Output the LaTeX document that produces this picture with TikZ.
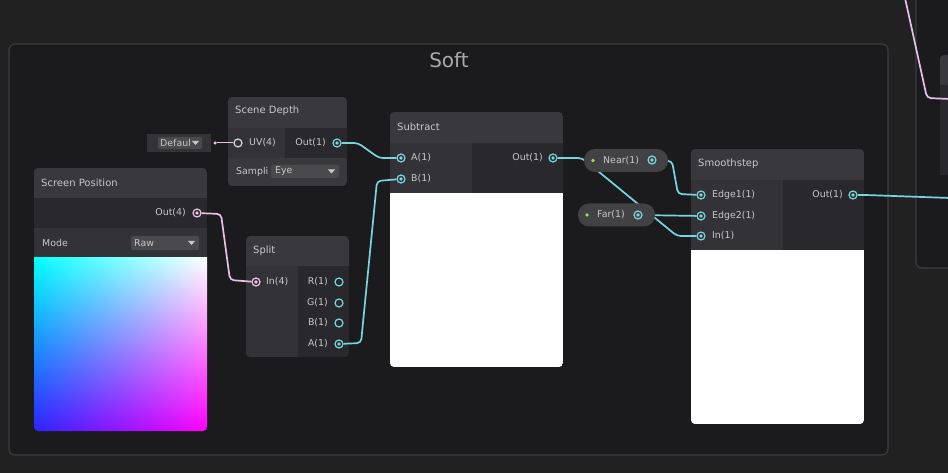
\documentclass[tikz,border=0pt]{standalone}
\usepackage{fontspec}
\setmainfont{DejaVu Sans}
\usepackage{xcolor}
\usetikzlibrary{shadings}
\pgfdeclarelayer{front}
\pgfsetlayers{main,front}

\definecolor{bgout}{RGB}{33,33,34}
\definecolor{bggroup}{RGB}{27,27,29}
\definecolor{groupline}{RGB}{60,60,62}
\definecolor{hdr}{RGB}{57,56,60}
\definecolor{inpart}{RGB}{51,50,54}
\definecolor{outpart}{RGB}{41,40,44}
\definecolor{ddc}{RGB}{74,74,77}
\definecolor{pillc}{RGB}{66,66,68}
\definecolor{txtc}{RGB}{200,200,200}
\definecolor{softc}{RGB}{170,170,172}
\definecolor{wirec}{RGB}{120,214,222}
\definecolor{pinkc}{RGB}{232,192,232}
\definecolor{greenc}{RGB}{150,220,90}
\definecolor{spblue}{RGB}{45,35,255}

\begin{document}
\begin{tikzpicture}
                [
                x=1pt, y=-1pt,
                title/.style={text=txtc, font=\fontsize{10}{12}\selectfont, inner sep=0pt, anchor=west},
                lbl/.style={text=txtc, font=\fontsize{9.4}{11}\selectfont, inner sep=0pt},
                port/.style={circle, draw=wirec, line width=1.2pt, inner sep=0pt, minimum size=8pt},
                full/.style={path picture={\fill[#1] (path picture bounding box.center) circle (1.8pt);}},
                full/.default=wirec,
                wire/.style={draw=wirec, line width=1.7pt, rounded corners=4pt},
                pwire/.style={wire, draw=pinkc},
                pill/.style={fill=pillc, rounded corners=11pt, inner sep=0pt, minimum height=23pt},
                gdot/.style={circle, fill=greenc, inner sep=0pt, minimum size=3.8pt}
                ]
            \fill[bgout] (0,0) rectangle (948,473);
            \useasboundingbox (0,0) rectangle (948,473);
            % groups
            \draw[fill=bggroup, draw=groupline, line width=1.2pt, rounded corners=6pt] (9,44) rectangle (888,455);
            \node[text=softc, font=\fontsize{20}{24}\selectfont] (softTitle) at (449,60) {Soft};
            \draw[fill=bggroup, draw=groupline, line width=1.2pt, rounded corners=6pt] (916,-10) rectangle (990,268);
            \fill[hdr, rounded corners=4pt] (940,55) rectangle (990,175);
            \fill[outpart] (940,85) rectangle (948,175);

            % Default input
            \fill[inpart] (147,134) rectangle (211,152);
            \fill[ddc, rounded corners=2pt] (158,137) rectangle (202,149);
            \node[lbl, anchor=west] (defLbl) at (160,143) {Defaul};
            \fill[txtc] (192,141) -- (199,141) -- (195.5,145) -- cycle;
            \node[circle, fill=pinkc, inner sep=0pt, minimum size=3.5pt] (defDot) at (215,143) {};

            % Scene Depth
            \begin{scope}
            \clip[rounded corners=4pt] (228,97) rectangle (347,186);
            \fill[hdr] (228,97) rectangle (347,186);
            \fill[inpart] (228,128) rectangle (285,158);
            \fill[outpart] (285,128) rectangle (347,158);
            \end{scope}
            \node[title] (sdTitle) at (235,111) {Scene Depth};
            \node[port, draw=white!85!black] (sdUV) at (238,143) {};
            \node[lbl, anchor=west] (sdUVl) at (249,143) {UV(4)};
            \node[lbl, anchor=east] (sdOutl) at (326,143) {Out(1)};
            \node[port, full] (sdOut) at (337,143) {};
            \node[lbl, anchor=west] (sdSamp) at (236,172) {Sampli};
            \fill[ddc, rounded corners=2pt] (271,165) rectangle (339,178);
            \node[lbl, anchor=west] (sdEye) at (275,171.5) {Eye};
            \fill[txtc] (328,169.5) -- (335,169.5) -- (331.5,173.5) -- cycle;

            % Screen Position
            \begin{scope}
            \clip[rounded corners=4pt] (34,168) rectangle (207,431);
            \fill[hdr] (34,168) rectangle (207,198);
            \fill[outpart] (34,198) rectangle (207,228);
            \fill[inpart] (34,228) rectangle (207,258);
            \shade[shading=bilinear interpolation, lower left=spblue, upper left=cyan,
                   upper right=white, lower right=magenta] (34,258) rectangle (207,431);
            \end{scope}
            \node[title] (spTitle) at (41,183) {Screen Position};
            \node[lbl, anchor=east] (spOutl) at (186,213) {Out(4)};
            \node[port, draw=pinkc, full=pinkc] (spOut) at (197,213) {};
            \node[lbl, anchor=west] (spMode) at (42,243) {Mode};
            \fill[ddc, rounded corners=2pt] (131,236) rectangle (199,250);
            \node[lbl, anchor=west] (spRaw) at (134,243) {Raw};
            \fill[txtc] (188,241) -- (195,241) -- (191.5,245) -- cycle;

            % Split
            \begin{scope}
            \clip[rounded corners=4pt] (246,236) rectangle (349,357);
            \fill[hdr] (246,236) rectangle (349,266);
            \fill[inpart] (246,266) rectangle (298,357);
            \fill[outpart] (298,266) rectangle (349,357);
            \end{scope}
            \node[title] (splTitle) at (253,251) {Split};
            \node[port, draw=pinkc, full=pinkc] (splIn) at (256,282) {};
            \node[lbl, anchor=west] (splInl) at (266,282) {In(4)};
            \node[lbl, anchor=east] (splRl) at (328,282) {R(1)};
            \node[lbl, anchor=east] (splGl) at (328,303) {G(1)};
            \node[lbl, anchor=east] (splBl) at (328,323) {B(1)};
            \node[lbl, anchor=east] (splAl) at (328,344) {A(1)};
            \node[port] (splR) at (339,282) {};
            \node[port] (splG) at (339,303) {};
            \node[port] (splB) at (339,323) {};
            \node[port, full] (splA) at (339,344) {};

            % Subtract
            \begin{scope}
            \clip[rounded corners=4pt] (390,112) rectangle (563,367);
            \fill[hdr] (390,112) rectangle (563,143);
            \fill[inpart] (390,143) rectangle (472,193);
            \fill[outpart] (472,143) rectangle (563,193);
            \fill[white] (390,193) rectangle (563,367);
            \end{scope}
            \node[title] (subTitle) at (397,127) {Subtract};
            \node[port, full] (subA) at (401,158) {};
            \node[port, full] (subB) at (401,179) {};
            \node[lbl, anchor=west] (subAl) at (411,158) {A(1)};
            \node[lbl, anchor=west] (subBl) at (411,179) {B(1)};
            \node[lbl, anchor=east] (subOutl) at (543,158) {Out(1)};
            \node[port, full] (subOut) at (553,158) {};

            % Smoothstep
            \begin{scope}
            \clip[rounded corners=4pt] (691,149) rectangle (864,424);
            \fill[hdr] (691,149) rectangle (864,180);
            \fill[inpart] (691,180) rectangle (783,250);
            \fill[outpart] (783,180) rectangle (864,250);
            \fill[white] (691,250) rectangle (864,424);
            \end{scope}
            \node[title] (ssTitle) at (698,164) {Smoothstep};
            \node[port, full] (ssE1) at (701,195) {};
            \node[port, full] (ssE2) at (701,216) {};
            \node[port, full] (ssIn) at (701,236) {};
            \node[lbl, anchor=west] (ssE1l) at (712,195) {Edge1(1)};
            \node[lbl, anchor=west] (ssE2l) at (712,216) {Edge2(1)};
            \node[lbl, anchor=west] (ssInl) at (712,236) {In(1)};
            \node[lbl, anchor=east] (ssOutl) at (843,195) {Out(1)};
            \node[port, full] (ssOut) at (853,195) {};

            % properties
            \begin{pgfonlayer}{front}
            \node[pill, minimum width=84pt] (near) at (626,160.5) {};
            \node[gdot] (nearDot) at (593,160.5) {};
            \node[lbl, anchor=west] (nearl) at (603,160.5) {Near(1)};
            \node[port, full] (nearOut) at (652,160) {};
            \node[pill, minimum width=77pt] (far) at (616.5,215) {};
            \node[gdot] (farDot) at (587,215) {};
            \node[lbl, anchor=west] (farl) at (597,215) {Far(1)};
            \node[port, full] (farOut) at (638,215) {};
            \end{pgfonlayer}

            \coordinate (rOut) at (950,198);
            \coordinate (pinkTop) at (905,-2);
            \coordinate (pinkEnd) at (950,99);

            % connections
            \draw[pinkc, line width=1pt] (defDot) -- (sdUV);
            \draw[pwire] (spOut) -- (221,214) -- (230,280) -- (splIn);
            \draw[wire] (sdOut) -- (358,143) -- (379,158) -- (subA);
            \draw[wire] (splA) -- (361,343) -- (377,181) -- (subB);
            \draw[wire] (subOut) -- (582,158) -- (677,236) -- (ssIn);
            \draw[wire] (nearOut) -- (672,161) -- (678,194) -- (ssE1);
            \draw[wire] (farOut) -- (ssE2);
            \draw[wire] (ssOut) -- (866,195) -- (rOut);
            \draw[pwire] (pinkTop) -- (927,98) -- (pinkEnd);
            \end{tikzpicture}
\end{document}
